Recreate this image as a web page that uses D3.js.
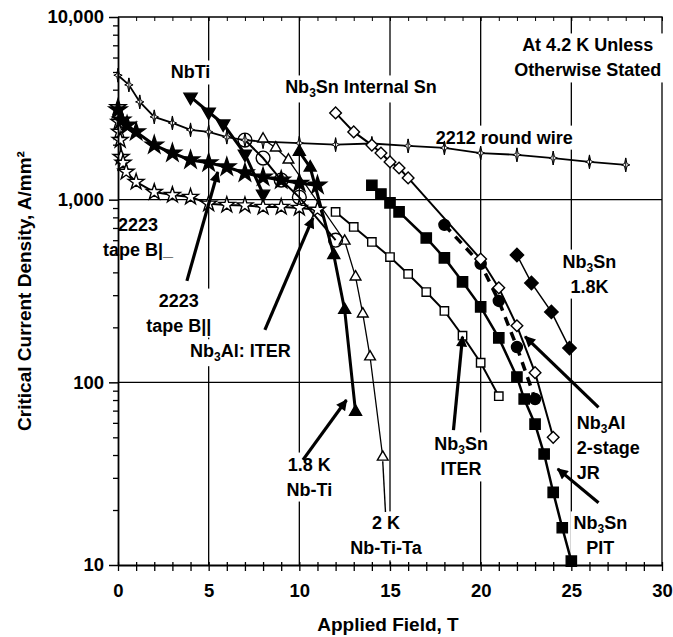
<!DOCTYPE html>
<html>
<head>
<meta charset="utf-8">
<script src="https://cdn.jsdelivr.net/npm/d3@7"></script>
<style>
  body { margin: 0; background: #fff; }
  text { font-family: "Liberation Sans", Arial, sans-serif; font-weight: bold; fill: #000; }
</style>
</head>
<body>
<svg id="chart" width="673" height="637"></svg>
<script>
// ---- data (field in T, Jc in A/mm2) ----
const bscco2212X = [0, 0.6, 1.2, 2, 3, 4, 5, 6, 7, 8, 10, 12, 14, 16, 18, 20, 22, 24, 26, 28];
const bscco2212Y = [4800, 4250, 3430, 2840, 2630, 2410, 2350, 2200, 2120, 2080, 2040, 2000, 2030, 1970, 1920, 1800, 1760, 1690, 1610, 1550];

const tapeParX = [0, 0.2, 0.5, 1, 2, 3, 4, 5, 6, 7, 8, 9, 10, 11];
const tapeParY = [3100, 2730, 2560, 2350, 1990, 1800, 1650, 1590, 1510, 1400, 1330, 1280, 1230, 1200];

const tapePerpX = [0, 0.05, 0.08, 0.12, 0.17, 0.28, 0.45, 1, 2, 3, 4, 5, 6, 7, 8, 9, 10, 11];
const tapePerpY = [3200, 2660, 2350, 2120, 1710, 1590, 1420, 1250, 1100, 1060, 1035, 950, 935, 930, 912, 912, 901, 880];

const nbtiX = [4, 5, 5.8, 7, 8];
const nbtiY = [3650, 3020, 2600, 1780, 1075];

const nbti18X = [10, 10.6, 11.9, 12.5, 13.1];
const nbti18Y = [1830, 1500, 498, 249, 69];

const nbtita2X = [8, 8.7, 9.4, 12.5, 13.1, 13.5, 13.9, 14.6];
const nbtita2Y = [2150, 1920, 1650, 594, 378, 237, 138, 39];

const nb3alIterX = [7, 8, 9, 10, 12];
const nb3alIterY = [2120, 1690, 1280, 1030, 600];

const intSnX = [12, 13, 14, 14.5, 15, 15.5, 16, 20, 21, 22, 23, 24];
const intSnY = [2985, 2350, 1990, 1800, 1610, 1490, 1315, 473, 329, 204, 113, 50];

const pitX = [14, 14.5, 15, 15.5, 17, 18, 19, 20, 21, 22, 22.4, 23, 23.5, 24, 24.5, 25];
const pitY = [1200, 1074, 960, 857, 617, 480, 355, 259, 175, 107, 81, 59, 40.5, 25, 16, 10.5];

const sn3IterX = [12, 13, 14, 15, 16, 17, 18, 19, 20, 21];
const sn3IterY = [857, 709, 587, 485, 392, 312, 246, 180, 128, 84];

const jrX = [18, 20, 21, 22, 23];
const jrY = [728, 445, 279, 156, 81];

const sn18X = [22, 22.8, 23.9, 24.9];
const sn18Y = [498, 350, 243, 154];

const xTicks = d3.range(0, 31, 1);
const xLabels = [0, 5, 10, 15, 20, 25, 30];
const yLabels = [10, 100, 1000, 10000];
const gridX = [5, 10, 15, 20, 25];
const gridY = [100, 1000];

// ---- scales ----
const svg = d3.select('#chart');
const x = d3.scaleLinear().domain([0, 30]).range([118, 662]);
const y = d3.scaleLog().domain([10, 10000]).range([565, 17]);

// thin 4-point marker used for the 2212 wire
const star4 = {draw(ctx, size) {
  const h = Math.sqrt(size) * 0.9, w = h * 0.6, c = h * 0.18;
  ctx.moveTo(0, -h); ctx.lineTo(c, -c); ctx.lineTo(w, 0); ctx.lineTo(c, c);
  ctx.lineTo(0, h); ctx.lineTo(-c, c); ctx.lineTo(-w, 0); ctx.lineTo(-c, -c); ctx.closePath();
  ctx.moveTo(0, -h); ctx.lineTo(0, h);
}};

const series = [
  {xs: tapePerpX, ys: tapePerpY, sym: d3.symbolStar, size: 78, fill: '#fff', lw: 2},
  {xs: bscco2212X, ys: bscco2212Y, sym: star4, size: 60, fill: '#fff', lw: 1.8, mlw: 1},
  {xs: nbtita2X, ys: nbtita2Y, sym: d3.symbolTriangle, size: 50, fill: '#fff', lw: 1.3},
  {xs: nb3alIterX, ys: nb3alIterY, sym: d3.symbolCircle, size: 150, fill: 'none', lw: 2},
  {xs: tapeParX, ys: tapeParY, sym: d3.symbolStar, size: 100, fill: '#000', lw: 3},
  {xs: nbtiX, ys: nbtiY, sym: d3.symbolTriangle, size: 75, fill: '#000', lw: 3, rot: 180},
  {xs: nbti18X, ys: nbti18Y, sym: d3.symbolTriangle, size: 62, fill: '#000', lw: 3},
  {xs: sn3IterX, ys: sn3IterY, sym: d3.symbolSquare, size: 70, fill: '#fff', lw: 2},
  {xs: pitX, ys: pitY, sym: d3.symbolSquare, size: 105, fill: '#000', lw: 2.5},
  {xs: jrX, ys: jrY, sym: d3.symbolCircle, size: 95, fill: '#000', lw: 3.5, dash: '9,7'},
  {xs: intSnX, ys: intSnY, sym: d3.symbolSquare, size: 68, fill: '#fff', lw: 2, rot: 45},
  {xs: sn18X, ys: sn18Y, sym: d3.symbolSquare, size: 90, fill: '#000', lw: 1.5, rot: 45}
];

// ---- layers ----
const gGrid = svg.append('g');
const gBg = svg.append('g');
const gLines = svg.append('g');
const gMarks = svg.append('g');
const gArrows = svg.append('g');
const gText = svg.append('g');

// gridlines
gGrid.selectAll('.gx').data(gridX).enter().append('line')
  .attr('x1', d => x(d)).attr('x2', d => x(d))
  .attr('y1', y(10000)).attr('y2', y(10))
  .attr('stroke', '#000').attr('stroke-width', 1.3);
gGrid.selectAll('.gy').data(gridY).enter().append('line')
  .attr('x1', x(0)).attr('x2', x(30))
  .attr('y1', d => y(d)).attr('y2', d => y(d))
  .attr('stroke', '#000').attr('stroke-width', 1.3);

// frame top/right
gGrid.append('path')
  .attr('d', `M${x(0)},${y(10000)}H${x(30)}V${y(10)}`)
  .attr('fill', 'none').attr('stroke', '#000').attr('stroke-width', 1.3);

// top minor ticks
gGrid.append('g').attr('transform', `translate(0,${y(10000)})`)
  .call(d3.axisTop(x).tickValues(xTicks).tickSize(-4).tickFormat(''))
  .call(g => g.select('.domain').remove())
  .selectAll('line').attr('stroke-width', 1);

// bottom axis
const xAxis = svg.append('g').attr('transform', `translate(0,${y(10)})`)
  .call(d3.axisBottom(x).tickValues(xTicks).tickSize(6).tickSizeOuter(0).tickPadding(13)
    .tickFormat(d => xLabels.includes(d) ? d : ''));
xAxis.select('.domain').attr('stroke-width', 1.8);
xAxis.selectAll('line').attr('stroke-width', 1.3).attr('y1', -3);
xAxis.selectAll('text').attr('font-size', 18.5).attr('font-family', null);

// left axis: minor + major
const minorY = [];
[10, 100, 1000].forEach(dec => { for (let k = 2; k <= 9; k++) minorY.push(dec * k); });
svg.append('g').attr('transform', `translate(${x(0)},0)`)
  .call(d3.axisLeft(y).tickValues(minorY).tickSize(5).tickFormat(''))
  .call(g => g.select('.domain').remove())
  .selectAll('line').attr('stroke-width', 1.3);
const yAxis = svg.append('g').attr('transform', `translate(${x(0)},0)`)
  .call(d3.axisLeft(y).tickValues(yLabels).tickSize(9).tickSizeOuter(0).tickPadding(5)
    .tickFormat(d3.format(',')));
yAxis.select('.domain').attr('stroke-width', 1.8);
yAxis.selectAll('line').attr('stroke-width', 1.5);
yAxis.selectAll('text').attr('font-size', 18.5).attr('font-family', null);

// ---- series ----
const line = d3.line().x(d => x(d[0])).y(d => y(d[1]));
series.forEach(s => {
  const pts = s.xs.map((v, i) => [v, s.ys[i]]);
  gLines.append('path').datum(pts)
    .attr('d', line)
    .attr('fill', 'none').attr('stroke', '#000')
    .attr('stroke-width', s.lw)
    .attr('stroke-dasharray', s.dash || null);
  gMarks.append('g').selectAll('path').data(pts).enter().append('path')
    .attr('d', d3.symbol(s.sym, s.size))
    .attr('transform', d => `translate(${x(d[0])},${y(d[1])}) rotate(${s.rot || 0})`)
    .attr('fill', s.fill).attr('stroke', '#000')
    .attr('stroke-width', s.mlw || 1.4);
});

// ---- arrows (data units) ----
svg.append('defs').append('marker')
  .attr('id', 'head').attr('viewBox', '0 0 10 10').attr('refX', 9).attr('refY', 5)
  .attr('markerWidth', 13).attr('markerHeight', 11).attr('markerUnits', 'userSpaceOnUse')
  .attr('orient', 'auto')
  .append('path').attr('d', 'M0,0L10,5L0,10z').attr('fill', '#000');

const arrows = [
  {from: [3.8, 359], to: [5.5, 1418], head: true},
  {from: [8.1, 194], to: [10.75, 795], head: true},
  {from: [10.2, 37.6], to: [12.6, 80], head: true},
  {from: [14.75, 19.5], to: [14.6, 37], head: false},
  {from: [18.5, 54.8], to: [19.0, 178], head: true},
  {from: [26.5, 73], to: [22.45, 178], head: true},
  {from: [26.5, 21.9], to: [24.25, 33.6], head: true}
];
gArrows.selectAll('line').data(arrows).enter().append('line')
  .attr('x1', d => x(d.from[0])).attr('y1', d => y(d.from[1]))
  .attr('x2', d => x(d.to[0])).attr('y2', d => y(d.to[1]))
  .attr('stroke', '#000')
  .attr('stroke-width', d => d.head ? 3.2 : 1.4)
  .attr('marker-end', d => d.head ? 'url(#head)' : null);

// ---- labels (data units), "_3" marks a subscript 3 ----
const notes = [
  {lines: ['NbTi'], at: [4.0, 5000]},
  {lines: ['Nb_3Sn Internal Sn'], at: [13.4, 4140]},
  {lines: ['2212 round wire'], at: [21.3, 2200]},
  {lines: ['At 4.2 K Unless', 'Otherwise Stated'], at: [25.9, 7030]},
  {lines: ['Nb_3Sn', '1.8K'], at: [26.0, 461]},
  {lines: ['2223', 'tape B|_'], at: [1.1, 728]},
  {lines: ['2223', 'tape B||'], at: [3.35, 282]},
  {lines: ['Nb_3Al: ITER'], at: [6.75, 149]},
  {lines: ['1.8 K', 'Nb-Ti'], at: [10.55, 35.7]},
  {lines: ['2 K', 'Nb-Ti-Ta'], at: [14.78, 17]},
  {lines: ['Nb_3Sn', 'ITER'], at: [18.92, 46]},
  {lines: ['Nb_3Al', '2-stage', 'JR'], at: [25.3, 60], anchor: 'start'},
  {lines: ['Nb_3Sn', 'PIT'], at: [26.6, 17]}
];
const lineGap = 25;
notes.forEach(n => {
  const t = gText.append('text')
    .attr('font-size', 18)
    .attr('text-anchor', n.anchor || 'middle');
  n.lines.forEach((ln, i) => {
    const parts = ln.split('_3');
    t.append('tspan').attr('x', x(n.at[0]))
      .attr('y', y(n.at[1]) + 6.5 + i * lineGap).text(parts[0]);
    if (parts.length > 1) {
      t.append('tspan').attr('font-size', 12).attr('dy', 4).text('3');
      t.append('tspan').attr('dy', -4).text(parts[1]);
    }
  });
  const b = t.node().getBBox();
  gBg.append('rect').attr('x', b.x - 3).attr('y', b.y - 2)
    .attr('width', b.width + 6).attr('height', b.height + 4).attr('fill', '#fff');
});

// ---- axis titles ----
svg.append('text').attr('x', (x(0) + x(30)) / 2 - 2).attr('y', 631)
  .attr('text-anchor', 'middle').attr('font-size', 19).text('Applied Field, T');
svg.append('text')
  .attr('transform', `translate(31,${(y(10) + y(10000)) / 2}) rotate(-90)`)
  .attr('text-anchor', 'middle').attr('font-size', 19)
  .text('Critical Current Density, A/mm²');
</script>
</body>
</html>
